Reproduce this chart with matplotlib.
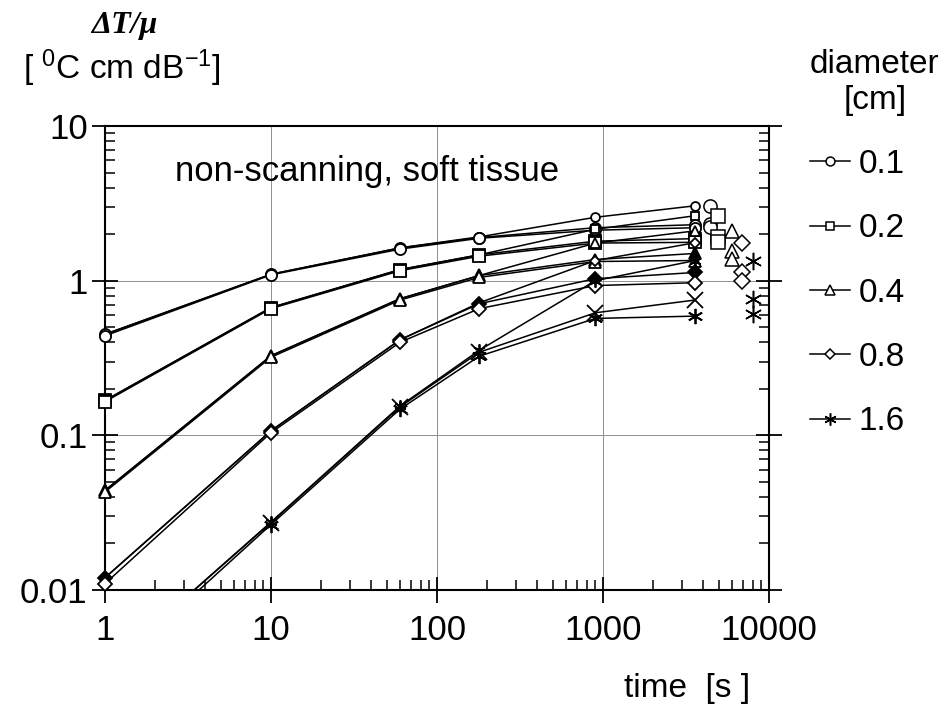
import matplotlib
matplotlib.use('Agg')
import matplotlib.pyplot as plt
from matplotlib.lines import Line2D
import numpy as np

plt.rcParams['font.family'] = ['Liberation Sans', 'DejaVu Sans']
plt.rcParams['mathtext.fontset'] = 'custom'
plt.rcParams['mathtext.rm'] = 'Liberation Sans'
plt.rcParams['mathtext.default'] = 'regular'

# ---------------- data ----------------
times = [1, 10, 60, 180, 900, 3600]
diameters = ['0.1', '0.2', '0.4', '0.8', '1.6']

# three model curves (A, B, C) per diameter
d01_a = [0.45, 1.10, 1.63, 1.92, 2.57, 3.05]
d01_b = [0.45, 1.10, 1.63, 1.90, 2.20, 2.30]
d01_c = [0.44, 1.09, 1.60, 1.88, 2.12, 2.20]

d02_a = [0.168, 0.67, 1.18, 1.47, 2.15, 2.63]
d02_b = [0.168, 0.67, 1.18, 1.47, 1.80, 1.87]
d02_c = [0.165, 0.66, 1.16, 1.44, 1.75, 1.77]

d04_a = [0.044, 0.327, 0.765, 1.08, 1.75, 2.10]
d04_b = [0.044, 0.327, 0.765, 1.08, 1.37, 1.50]
d04_c = [0.043, 0.320, 0.750, 1.05, 1.33, 1.35]

d08_a = [0.0120, 0.107, 0.415, 0.72, 1.35, 1.76]
d08_b = [0.0120, 0.107, 0.415, 0.71, 1.03, 1.13]
d08_c = [0.0110, 0.104, 0.400, 0.66, 0.93, 0.97]

d16_a = [0.0031, 0.0275, 0.155, 0.355, 1.00, 1.35]
d16_b = [0.0031, 0.0273, 0.153, 0.345, 0.62, 0.75]
d16_c = [0.0028, 0.0265, 0.148, 0.325, 0.57, 0.59]

# steady-state values plotted to the right of the curves
steady_x = [4400, 4900, 5950, 6900, 8000]
steady_01 = [3.05, 2.33, 2.22]
steady_02 = [2.63, 1.92, 1.77]
steady_04 = [2.10, 1.56, 1.39]
steady_08 = [1.76, 1.14, 0.99]
steady_16 = [1.35, 0.76, 0.61]

curves = [
    (d01_a, d01_b, d01_c),
    (d02_a, d02_b, d02_c),
    (d04_a, d04_b, d04_c),
    (d08_a, d08_b, d08_c),
    (d16_a, d16_b, d16_c),
]
steadies = [steady_01, steady_02, steady_04, steady_08, steady_16]

star = (6, 2, 0)
markers = ['o', 's', '^', 'D', star]
msizes = [8, 8, 9, 7, 11]

# ---------------- figure ----------------
fig = plt.figure(figsize=(9.52, 7.11), dpi=100)
ax = fig.add_axes([105/952, 1-590/711, (769-105)/952, (590-126)/711])
ax.set_xscale('log')
ax.set_yscale('log')
ax.set_xlim(1, 10000)
ax.set_ylim(0.01, 10)

ax.grid(True, which='major', color='#909090', lw=0.7)
ax.set_axisbelow(True)

ymin = 0.01
for i, (ca, cb, cc) in enumerate(curves):
    mk = markers[i]
    ms = msizes[i]
    for j, c in enumerate((ca, cb, cc)):
        ax.plot(times, c, color='black', lw=1.1, zorder=2)
    for j, c in enumerate((ca, cb, cc)):
        yv = np.array(c, dtype=float)
        yv[yv < ymin] = np.nan
        if i == 0:
            face = 'white'
        elif j == 1:
            face = 'black'
        else:
            face = 'white'
        m = mk
        if i == 4 and j == 1:
            m = 'x'
        ax.plot(times, yv, ls='none', marker=m, ms=ms if j != 0 else ms*0.8,
                mfc=face, mec='black', mew=1.3, zorder=3, clip_on=False)
    ax.plot([steady_x[i]]*len(steadies[i]), steadies[i], ls='none', marker=mk,
            ms=ms+1.5, mfc='white', mec='black', mew=1.1, zorder=3)

for s in ax.spines.values():
    s.set_linewidth(1.5)

ax.tick_params(which='major', direction='inout', length=19, width=1.3,
               right=True, top=False, labelsize=25, pad=3)
ax.tick_params(axis='x', which='major', pad=8)
ax.tick_params(which='minor', direction='in', length=7, width=1.1,
               right=True, top=False)
ax.set_xticks([1, 10, 100, 1000, 10000])
ax.set_xticklabels(['1', '10', '100', '1000', '10000'])
ax.set_yticks([0.01, 0.1, 1, 10])
ax.set_yticklabels(['0.01', '0.1', '1', '10'])

ax.text(0.105, 0.903, 'non-scanning, soft tissue', transform=ax.transAxes,
        fontsize=25, ha='left', va='center')

fig.text(687/952, 1-688/711, 'time  [s ]', fontsize=24, ha='center', va='center')
fig.text(124/952, 1-25/711, 'ΔT/μ', fontsize=23, ha='center', va='center',
         family='Liberation Serif', weight='bold', style='italic')
fig.text(122/952, 1-68/711, r'[ $^{0}$C cm dB$^{-1}$]', fontsize=24,
         ha='center', va='center')

handles = [Line2D([], [], color='black', lw=1.1, marker=markers[i],
                  ms=msizes[i]*0.8, mfc='white', mec='black', mew=1.1)
           for i in range(5)]
leg = fig.legend(handles, diameters, loc='upper left',
                 bbox_to_anchor=(810/952, 1-49/711), frameon=False,
                 fontsize=24, title='diameter\n[cm]', title_fontsize=24,
                 handlelength=1.2, handletextpad=0.25, labelspacing=1.0,
                 borderpad=0, borderaxespad=0, alignment='left')
leg.get_title().set_multialignment('center')
# nudge entries slightly right of the title start
for h in leg.legend_handles:
    pass

fig.savefig('out.png', dpi=100)
